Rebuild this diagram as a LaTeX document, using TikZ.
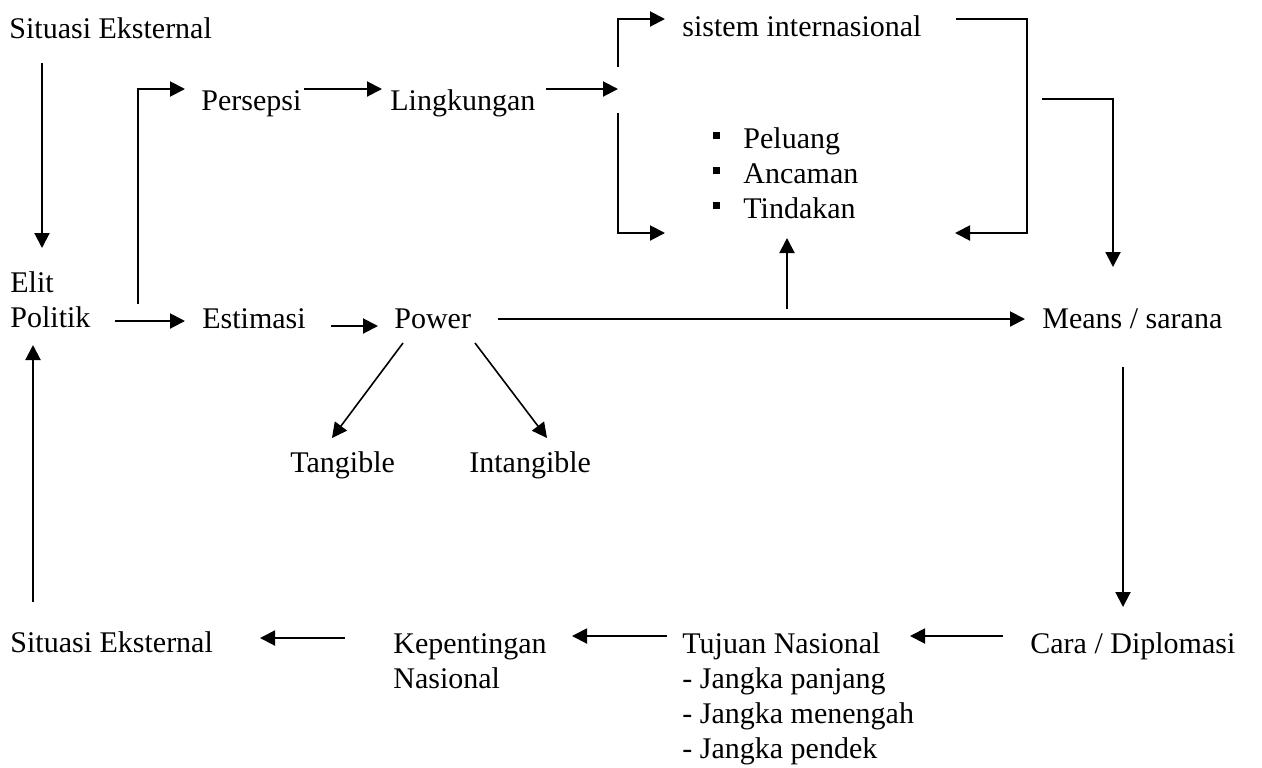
\documentclass[tikz,border=0pt]{standalone}
\usepackage{fontspec}
\setmainfont{Liberation Serif}
\usetikzlibrary{arrows.meta, calc}
\newcommand{\sqbul}{\rule[4.5pt]{3.5pt}{3.5pt}\hspace{11.5pt}}

\begin{document}
\begin{tikzpicture}[x=0.5pt,y=-0.5pt,
  lbl/.style={anchor=base west,inner sep=0pt,align=left,font=\fontsize{15}{17.5}\selectfont},
  arr/.style={line width=1pt,-{Triangle[length=7.5pt,width=7.5pt]}},
  thin arr/.style={arr,line width=0.8pt}]
  \useasboundingbox (0,0) rectangle (1262,767);
  % labels (multi-line nodes sit on their last baseline)
  \node[lbl] (sitTop) at (9,38) {Situasi Eksternal};
  \node[lbl] (elit) at (10,327) {Elit\\Politik};
  \node[lbl] (persepsi) at (201,110) {Persepsi};
  \node[lbl] (lingk) at (390,110) {Lingkungan};
  \node[lbl] (sistem) at (682,36) {sistem internasional};
  \node[lbl] (faktor) at (713,218) {\sqbul Peluang\\\sqbul Ancaman\\\sqbul Tindakan};
  \node[lbl] (estimasi) at (202,328) {Estimasi};
  \node[lbl] (power) at (394,328) {Power};
  \node[lbl] (means) at (1042,328) {Means / sarana};
  \node[lbl] (tangible) at (290,472) {Tangible};
  \node[lbl] (intangible) at (469,472) {Intangible};
  \node[lbl] (sitBot) at (10,652) {Situasi Eksternal};
  \node[lbl] (kepentingan) at (393,688) {Kepentingan\\Nasional};
  \node[lbl] (tujuan) at (682,758) {Tujuan Nasional\\- Jangka panjang\\- Jangka menengah\\- Jangka pendek};
  \node[lbl] (cara) at (1030,653) {Cara / Diplomasi};
  \coordinate (fork) at (618,89);
  % upper part
  \draw[arr] ($(sitTop.base west)+(33,25)$) -- ($(elit.base west)+(32,-79)$);
  \draw[arr] ($(elit.base west)+(128,-23)$) |- ($(persepsi.base west)+(-16,-21)$);
  \draw[arr] ($(persepsi.base east)+(2,-21)$) -- ($(lingk.base west)+(-8,-21)$);
  \draw[arr] ($(lingk.base east)+(10,-21)$) -- (fork);
  \draw[arr] ($(fork)+(0,-22)$) |- ($(sistem.base west)+(-17,-17)$);
  \draw[arr] ($(fork)+(0,24)$) |- ($(faktor.base west)+(-48,15)$);
  \draw[arr] ($(sistem.base east)+(34,-17)$) -| (1027,233) -- ($(faktor.base west)+(242,15)$);
  \draw[arr] (1042,99) -| ($(means.base west)+(71,-61)$);
  % middle row
  \draw[arr] ($(elit.base west)+(105,-6)$) -- ($(estimasi.base west)+(-17,-7)$);
  \draw[arr] ($(estimasi.base east)+(25,-2)$) -- ($(power.base west)+(-16,-2)$);
  \draw[arr] ($(power.base east)+(27,-9)$) -- ($(means.base west)+(-17,-9)$);
  \draw[arr] ($(power.base west)+(393,-19)$) -- ($(faktor.base west)+(74,20)$);
  \draw[thin arr] ($(power.base west)+(9,15)$) -- ($(tangible.base west)+(42,-34)$);
  \draw[thin arr] ($(power.base west)+(81,15)$) -- ($(intangible.base west)+(78,-34)$);
  % lower row
  \draw[arr] ($(means.base west)+(81,39)$) -- ($(cara.base west)+(93,-46)$);
  \draw[arr] ($(cara.base west)+(-27,-17)$) -- ($(tujuan.base west)+(228,-122)$);
  \draw[arr] ($(tujuan.base west)+(-15,-122)$) -- ($(kepentingan.base west)+(179,-52)$);
  \draw[arr] ($(kepentingan.base west)+(-48,-50)$) -- ($(sitBot.base west)+(250,-14)$);
  \draw[arr] ($(sitBot.base west)+(23,-50)$) -- ($(elit.base west)+(23,18)$);
\end{tikzpicture}
\end{document}
